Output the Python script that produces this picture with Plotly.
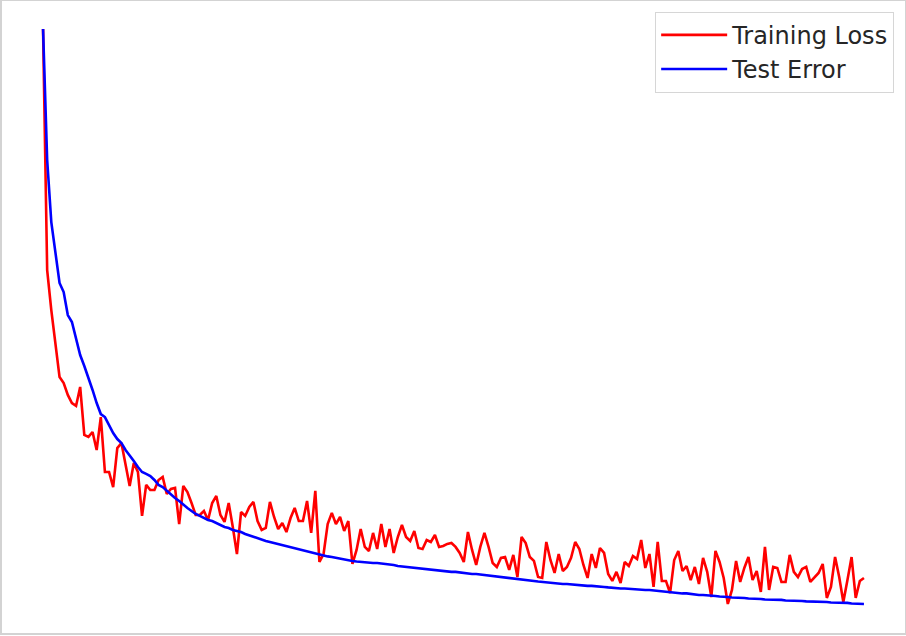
import plotly.graph_objects as go

epochs = list(range(200))

training_loss = [
    3.841, 2.239, 1.973, 1.741, 1.528, 1.488, 1.409, 1.355, 1.336, 1.462,
    1.143, 1.130, 1.163, 1.043, 1.262, 0.897, 0.897, 0.797, 1.056, 1.090,
    0.944, 0.804, 0.957, 0.897, 0.605, 0.811, 0.777, 0.777, 0.844, 0.864,
    0.751, 0.784, 0.791, 0.551, 0.804, 0.764, 0.691, 0.611, 0.611, 0.638,
    0.578, 0.691, 0.738, 0.611, 0.565, 0.691, 0.532, 0.352, 0.631, 0.605,
    0.664, 0.698, 0.571, 0.512, 0.525, 0.698, 0.598, 0.518, 0.558, 0.498,
    0.591, 0.658, 0.571, 0.571, 0.704, 0.492, 0.771, 0.299, 0.352, 0.551,
    0.625, 0.551, 0.598, 0.505, 0.571, 0.286, 0.379, 0.518, 0.399, 0.372,
    0.492, 0.385, 0.551, 0.399, 0.518, 0.359, 0.465, 0.545, 0.465, 0.439,
    0.505, 0.392, 0.385, 0.445, 0.432, 0.478, 0.399, 0.405, 0.419, 0.425,
    0.399, 0.359, 0.299, 0.498, 0.379, 0.279, 0.399, 0.492, 0.399, 0.292,
    0.266, 0.326, 0.332, 0.246, 0.346, 0.199, 0.465, 0.425, 0.332, 0.306,
    0.199, 0.193, 0.432, 0.312, 0.226, 0.352, 0.239, 0.266, 0.326, 0.432,
    0.385, 0.279, 0.193, 0.352, 0.259, 0.392, 0.359, 0.219, 0.173, 0.233,
    0.159, 0.299, 0.272, 0.339, 0.319, 0.445, 0.259, 0.352, 0.133, 0.432,
    0.173, 0.173, 0.093, 0.312, 0.372, 0.239, 0.272, 0.179, 0.266, 0.153,
    0.326, 0.233, 0.066, 0.372, 0.299, 0.193, 0.020, 0.113, 0.306, 0.166,
    0.259, 0.332, 0.179, 0.239, 0.100, 0.399, 0.113, 0.266, 0.259, 0.166,
    0.166, 0.346, 0.233, 0.199, 0.252, 0.266, 0.166, 0.199, 0.226, 0.286,
    0.060, 0.133, 0.332, 0.199, 0.033, 0.179, 0.332, 0.060, 0.173, 0.193,
]

test_error = [
    3.841, 2.970, 2.558, 2.372, 2.153, 2.093, 1.940, 1.894, 1.774, 1.674,
    1.601, 1.528, 1.442, 1.355, 1.282, 1.262, 1.209, 1.156, 1.116, 1.090,
    1.043, 1.010, 0.970, 0.930, 0.897, 0.884, 0.870, 0.844, 0.811, 0.797,
    0.771, 0.751, 0.724, 0.704, 0.678, 0.658, 0.638, 0.618, 0.605, 0.591,
    0.578, 0.571, 0.558, 0.545, 0.532, 0.525, 0.512, 0.505, 0.498, 0.485,
    0.475, 0.465, 0.455, 0.445, 0.439, 0.432, 0.425, 0.419, 0.412, 0.405,
    0.399, 0.392, 0.385, 0.379, 0.369, 0.362, 0.355, 0.346, 0.339, 0.336,
    0.332, 0.326, 0.319, 0.316, 0.312, 0.306, 0.302, 0.299, 0.299, 0.296,
    0.292, 0.292, 0.289, 0.286, 0.282, 0.279, 0.272, 0.269, 0.266, 0.262,
    0.259, 0.256, 0.252, 0.249, 0.246, 0.243, 0.239, 0.239, 0.236, 0.233,
    0.233, 0.229, 0.226, 0.223, 0.219, 0.219, 0.216, 0.213, 0.209, 0.206,
    0.203, 0.199, 0.196, 0.193, 0.189, 0.186, 0.183, 0.179, 0.176, 0.173,
    0.169, 0.166, 0.163, 0.159, 0.159, 0.156, 0.153, 0.153, 0.150, 0.146,
    0.146, 0.143, 0.140, 0.140, 0.136, 0.133, 0.133, 0.130, 0.126, 0.126,
    0.123, 0.123, 0.120, 0.120, 0.116, 0.116, 0.113, 0.113, 0.110, 0.106,
    0.106, 0.103, 0.100, 0.096, 0.093, 0.090, 0.090, 0.086, 0.083, 0.080,
    0.080, 0.076, 0.073, 0.073, 0.070, 0.066, 0.066, 0.063, 0.063, 0.060,
    0.060, 0.056, 0.056, 0.053, 0.053, 0.050, 0.050, 0.047, 0.047, 0.047,
    0.043, 0.043, 0.040, 0.040, 0.040, 0.037, 0.037, 0.037, 0.033, 0.033,
    0.033, 0.030, 0.030, 0.027, 0.027, 0.027, 0.023, 0.023, 0.020, 0.020,
]

y_ticks = [0.0, 0.5, 1.0, 1.5, 2.0, 2.5, 3.0, 3.5, 4.0]

fig = go.Figure()
fig.add_trace(go.Scatter(x=epochs, y=training_loss, mode="lines", name="Training Loss",
                         line=dict(color="#ff0000", width=2.6)))
fig.add_trace(go.Scatter(x=epochs, y=test_error, mode="lines", name="Test Error",
                         line=dict(color="#0000ff", width=2.6)))

fig.update_layout(
    width=906, height=636,
    margin=dict(l=2, r=1, t=1, b=3, autoexpand=False),
    paper_bgcolor="white", plot_bgcolor="white",
    font=dict(family="DejaVu Sans", color="#333333"),
    showlegend=True,
    legend=dict(
        x=0.988, y=0.983, xanchor="right", yanchor="top",
        font=dict(size=24, family="DejaVu Sans", color="#262626"),
        bgcolor="rgba(255,255,255,0.8)", bordercolor="#d6d6d6", borderwidth=1,
        itemwidth=66, tracegroupgap=0,
    ),
    xaxis=dict(range=[-9.95, 208.95], showgrid=False, zeroline=False,
               showticklabels=False, ticks="", showline=True, mirror=True,
               linecolor="#d3d3d3", linewidth=2),
    yaxis=dict(range=[-0.173, 4.027], showgrid=False, zeroline=False,
               tickvals=y_ticks, showticklabels=False, ticks="outside",
               ticklen=2, tickcolor="#aaaaaa", tickwidth=1,
               showline=True, mirror=True, linecolor="#d3d3d3", linewidth=2),
)

fig.write_html("out.html",
               config={"displayModeBar": False},
               post_script="document.body.style.margin='0px';document.body.style.overflow='hidden';")
